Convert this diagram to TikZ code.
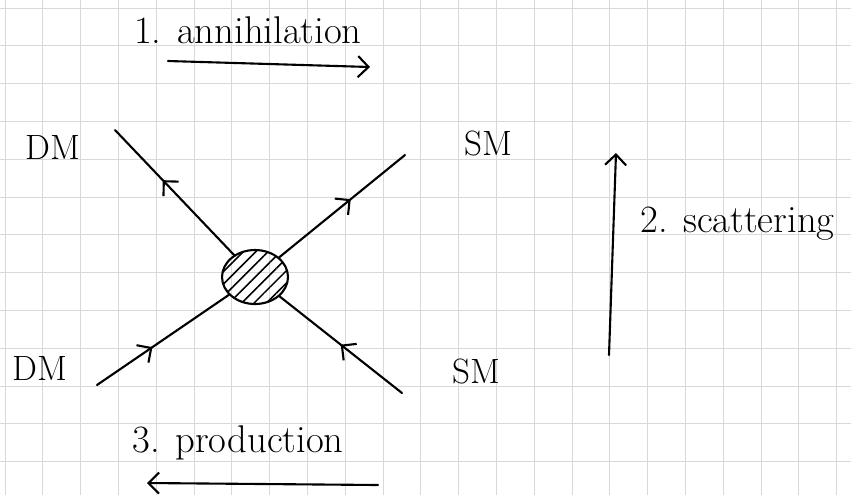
\documentclass[tikz,border=0pt]{standalone}
\usepackage{tikz}
\usetikzlibrary{arrows.meta,positioning,shapes.geometric,decorations.markings,patterns.meta}

\begin{document}
\begin{tikzpicture}[x=0.02cm, y=-0.02cm,
  gridline/.style={gray!30, line width=0.5pt},
  hand/.style={line width=1.2pt, line cap=round},
  lbl/.style={font=\fontsize{20}{24}\selectfont, inner sep=0pt},
  proc/.style={font=\fontsize{22}{26}\selectfont, inner sep=0pt},
  blobnode/.style={draw, ellipse, line width=1.2pt, minimum width=1.32cm, minimum height=1.08cm,
                   pattern={Lines[angle=45, distance=5pt, line width=0.9pt]}},
  fermion/.style={hand, decoration={markings, mark=at position #1 with
                  {\arrow{Straight Barb[length=6pt, width=12pt, line width=1.2pt]}}},
                  postaction={decorate}},
  >={Straight Barb[length=6pt, width=12pt, line width=1.2pt]}]
  \useasboundingbox (0,0) rectangle (851,495);
  % graph paper
  \foreach \gx in {0,...,22}
    \draw[gridline] ({5+37.8*\gx},0) -- ({5+37.8*\gx},495);
  \foreach \gy in {0,...,12}
    \draw[gridline] (0,{8+37.8*\gy}) -- (851,{8+37.8*\gy});

  % vertex
  \node[blobnode] (blob) at (255,277) {};
  \coordinate (tl) at (115,130);
  \coordinate (tr) at (405,155);
  \coordinate (bl) at (97,385);
  \coordinate (br) at (402,393);
  \draw[fermion=0.6]  (blob) -- (tl);
  \draw[fermion=0.57] (blob) -- (tr);
  \draw[fermion=0.42] (bl) -- (blob);
  \draw[fermion=0.5]  (br) -- (blob);

  \node[lbl] (dmtop) at (53,147) {DM};
  \node[lbl] (smtop) at (488,143) {SM};
  \node[lbl] (dmbot) at (40,368) {DM};
  \node[lbl] (smbot) at (476,371) {SM};

  % process directions
  \node[proc] (anntext) at (248,30) {1. annihilation};
  \coordinate (annA) at (168,61);
  \coordinate (annB) at (370,67);
  \draw[hand, ->] (annA) -- (annB);

  \coordinate (scatA) at (609,355);
  \coordinate (scatB) at (616,153);
  \draw[hand, ->] (scatA) -- (scatB);
  \node[proc, anchor=west] (scattext) at (640,224) {2. scattering};

  \node[proc] (prodtext) at (238,443) {3. production};
  \coordinate (prodA) at (378,485);
  \coordinate (prodB) at (147,483);
  \draw[hand, ->] (prodA) -- (prodB);
\end{tikzpicture}
\end{document}
